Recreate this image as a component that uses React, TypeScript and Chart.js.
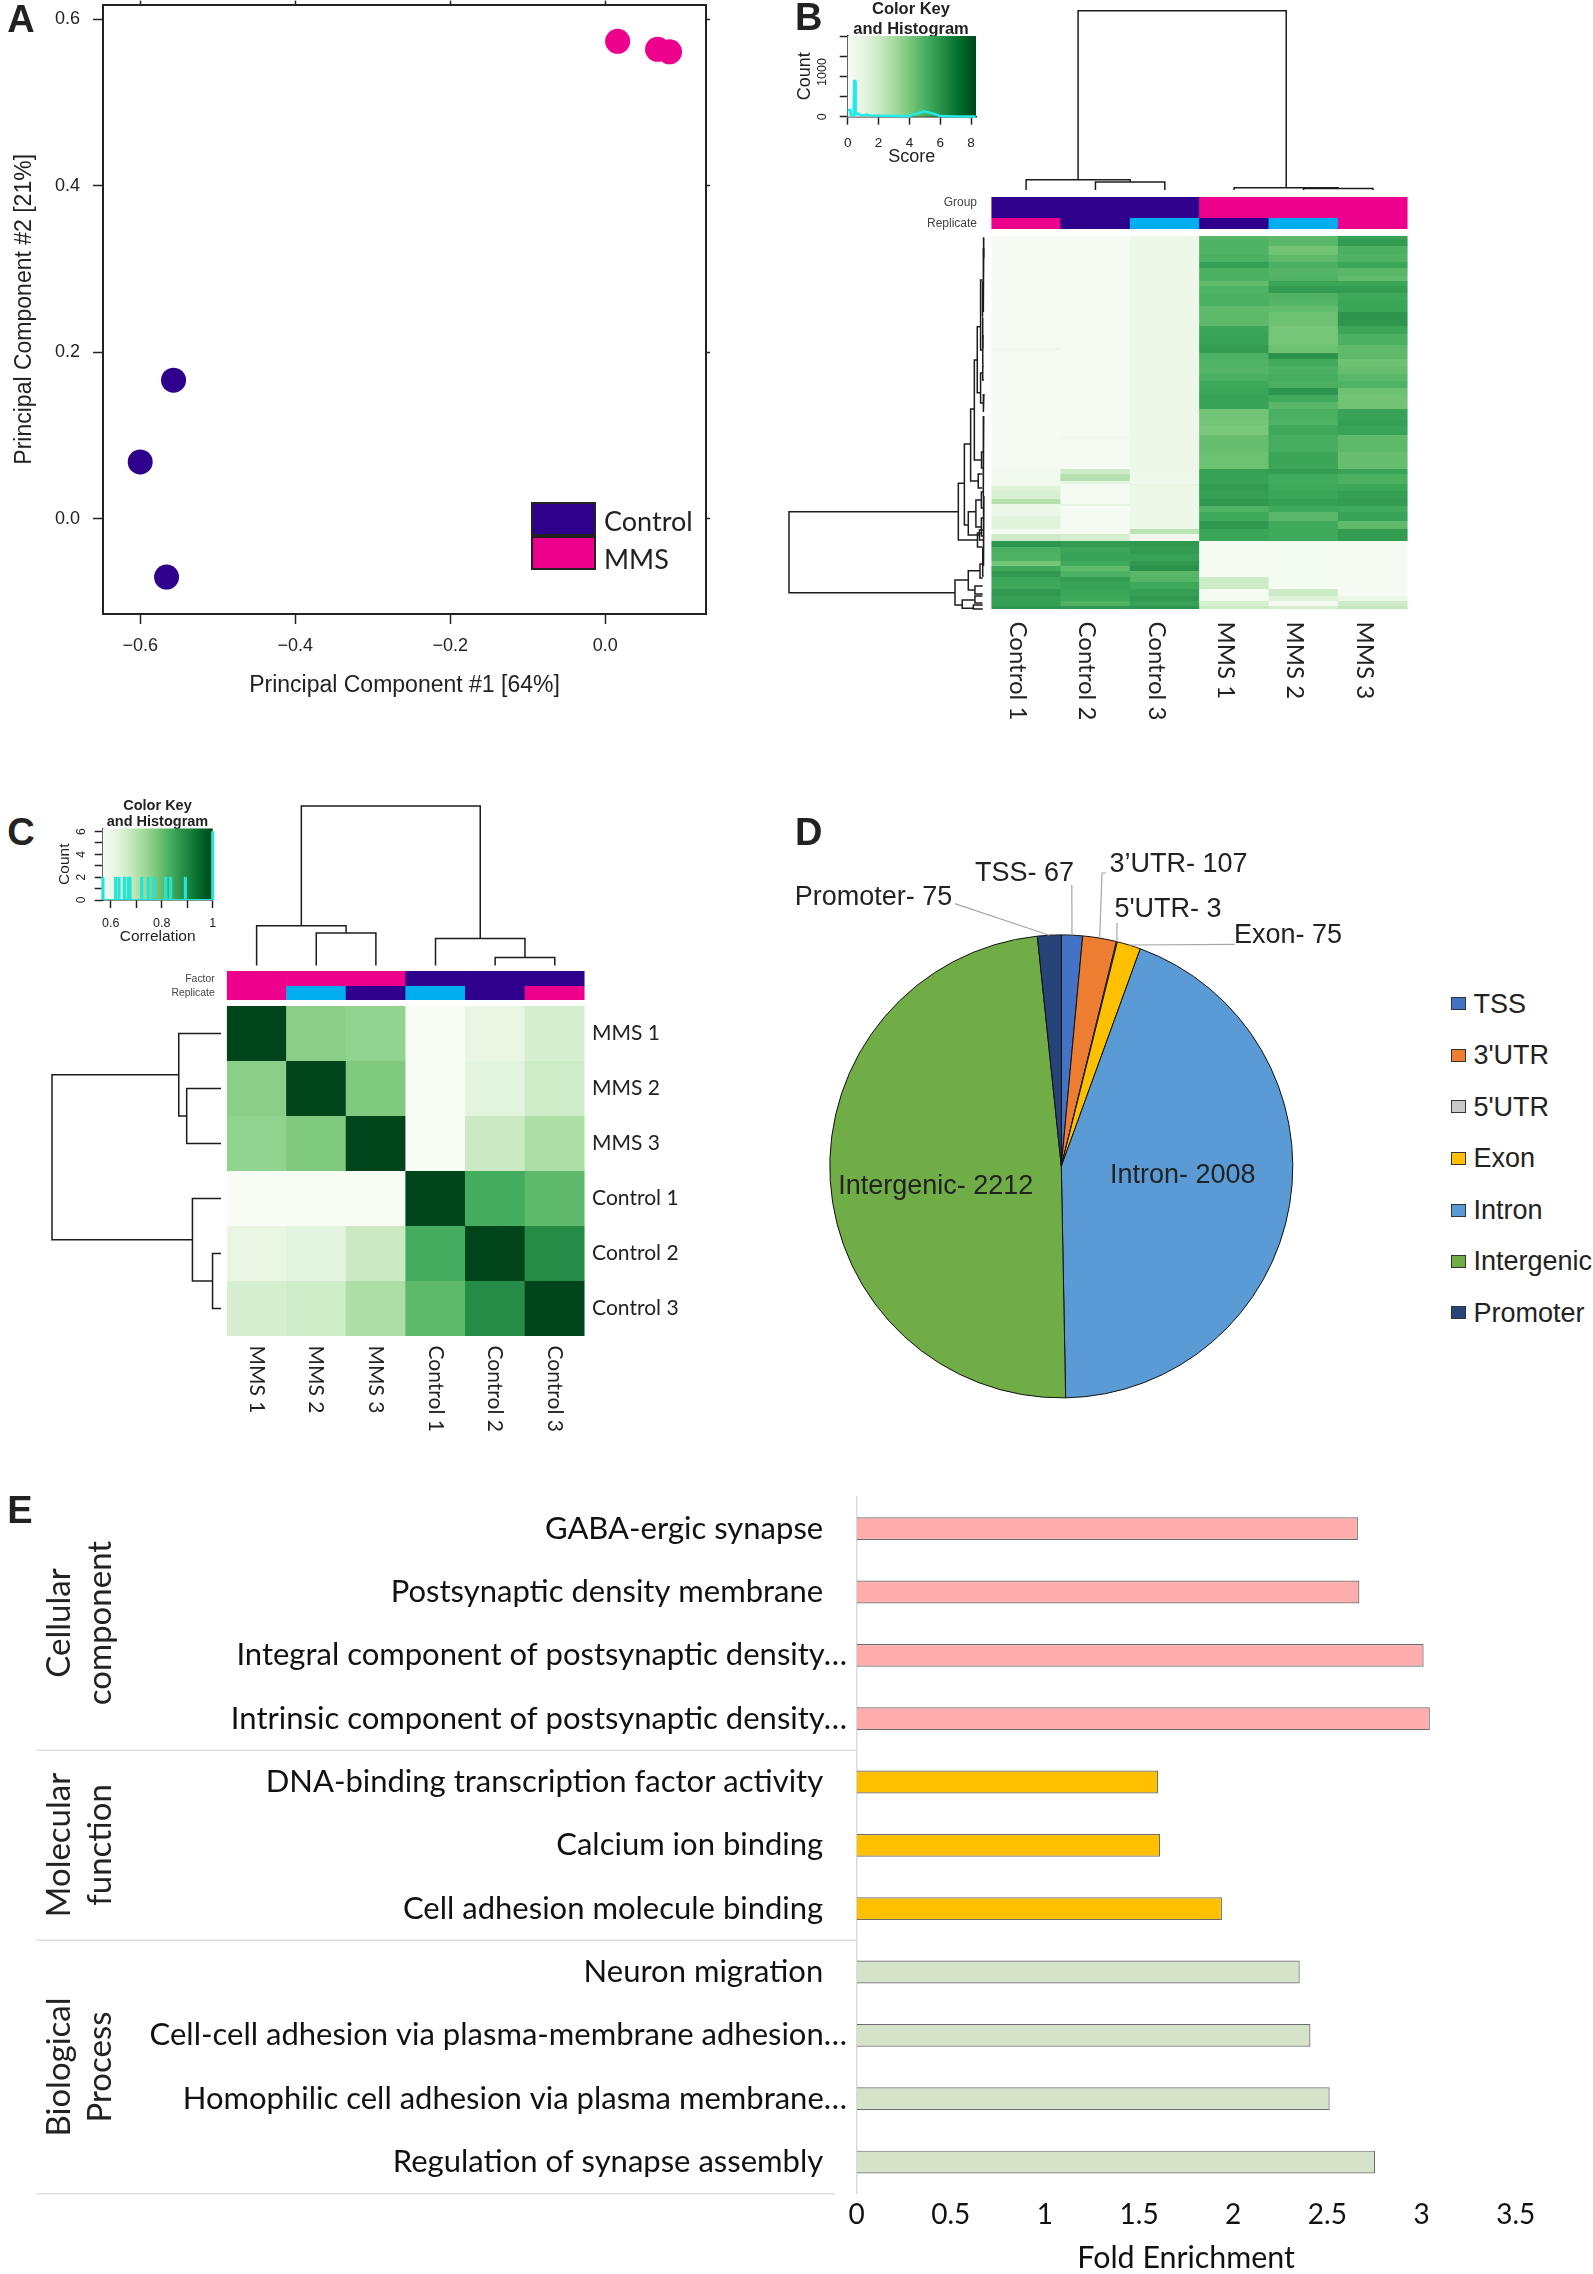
import React, { useEffect, useRef } from "react";
import { Chart, registerables } from "chart.js";

Chart.register(...registerables);

const SANS = '"Liberation Sans"';
const CAL = "Lato";
const INK = "#222222";
const DARK = "#111111";
const NAVY = "#2E008B";
const PINK = "#EC008C";
const SKY = "#00AEEF";

/* ---------- data ---------- */
const pcaControlX = [-0.557, -0.6, -0.566];
const pcaControlY = [0.1666, 0.0684, -0.07];
const pcaMmsX = [0.016, 0.0675, 0.083];
const pcaMmsY = [0.5736, 0.564, 0.561];

const scoreHistBins = [0, 0.15, 0.2, 0.38, 0.42, 0.48, 0.52, 0.7, 0.8, 1.0, 1.2, 1.4, 2, 3, 4, 4.2, 4.5, 4.9, 5.3, 5.7, 6, 7, 8.3];
const scoreHistCounts = [150, 150, 30, 30, 800, 800, 50, 70, 40, 30, 50, 30, 25, 15, 10, 50, 70, 120, 90, 50, 15, 8, 5];

const corrHistBins = [0.5695, 0.6195, 0.6326, 0.6535, 0.669, 0.6757, 0.7215, 0.7476, 0.77, 0.8157, 0.8353, 0.893, 1.0];
const corrHistCounts = [2, 2, 2, 2, 2, 2, 2, 2, 2, 2, 2, 2, 6];

const samplesB = ["Control 1", "Control 2", "Control 3", "MMS 1", "MMS 2", "MMS 3"];
const samplesC = ["MMS 1", "MMS 2", "MMS 3", "Control 1", "Control 2", "Control 3"];

const annotNamesB = ["Group", "Replicate"];
const annotColoursB = [
  [NAVY, NAVY, NAVY, PINK, PINK, PINK],
  [PINK, NAVY, SKY, NAVY, SKY, PINK],
];
const annotNamesC = ["Factor", "Replicate"];
const annotColoursC = [
  [PINK, PINK, PINK, NAVY, NAVY, NAVY],
  [PINK, SKY, NAVY, SKY, NAVY, PINK],
];

const geneBandCounts = [
  3, 7, 9, 7, 6, 8, 5, 5, 7, 7, 6, 6, 7, 7, 8, 11, 3, 2, 3, 6, 7, 8, 7, 7, 7, 7, 7, 11,
  5, 10, 2, 2, 13, 17,
  5, 7, 3, 2, 5, 8, 5, 2, 6, 4, 5, 8, 5, 7,
  6, 7, 7, 5, 5, 6, 5, 7, 7, 5, 5, 3,
];
const geneBandScores = [
  [0.1, 0.1, 0.6, 4.7, 4.6, 5.5], [0.1, 0.1, 0.6, 4.9, 4.7, 5.7], [0.1, 0.1, 0.6, 4.9, 4.2, 5.0], [0.1, 0.1, 0.6, 5.0, 4.6, 4.9],
  [0.1, 0.1, 0.6, 5.6, 5.0, 5.4], [0.1, 0.1, 0.6, 5.0, 4.8, 4.7], [0.1, 0.1, 0.6, 5.0, 4.9, 4.5], [0.1, 0.1, 0.6, 4.5, 5.4, 5.4],
  [0.1, 0.1, 0.6, 4.9, 5.7, 5.7], [0.1, 0.1, 0.6, 5.0, 4.9, 5.3], [0.1, 0.1, 0.6, 5.0, 4.8, 5.4], [0.1, 0.1, 0.6, 4.6, 4.5, 5.4],
  [0.1, 0.1, 0.6, 4.6, 4.3, 5.9], [0.1, 0.1, 0.6, 4.6, 4.3, 5.9], [0.1, 0.1, 0.6, 5.4, 4.1, 5.4], [0.1, 0.1, 0.6, 5.5, 4.1, 5.0],
  [0.1, 0.1, 0.6, 5.7, 4.3, 4.6], [0.6, 0.1, 0.6, 5.7, 4.3, 4.6], [0.1, 0.1, 0.6, 5.7, 4.3, 4.6],
  [0.1, 0.1, 0.6, 5.0, 6.0, 4.6], [0.1, 0.1, 0.6, 4.9, 5.2, 4.3], [0.1, 0.1, 0.6, 4.8, 5.0, 4.4], [0.1, 0.1, 0.6, 5.0, 5.1, 4.7],
  [0.1, 0.1, 0.6, 5.3, 5.0, 4.9], [0.1, 0.1, 0.6, 5.4, 5.9, 4.3], [0.1, 0.1, 0.6, 5.5, 5.2, 4.2], [0.1, 0.1, 0.6, 5.5, 4.7, 4.2],
  [0.1, 0.1, 0.6, 4.2, 5.0, 5.5],
  [0.1, 0.1, 0.6, 4.1, 4.9, 5.6], [0.1, 0.1, 0.6, 4.0, 5.3, 5.5], [0.1, 0.1, 0.6, 4.4, 5.1, 4.6], [0.1, 0.5, 0.6, 4.4, 5.1, 4.6],
  [0.1, 0.1, 0.6, 4.4, 5.1, 4.6], [0.1, 0.1, 0.6, 4.3, 5.4, 4.4],
  [0.3, 1.9, 0.6, 5.6, 5.7, 5.5], [0.3, 2.6, 0.5, 5.5, 5.2, 5.0], [0.3, 1.0, 0.5, 5.5, 5.2, 5.0], [0.3, 0.1, 1.0, 5.7, 5.3, 5.4],
  [1.3, 0.1, 0.6, 5.7, 5.3, 5.4], [1.5, 0.1, 0.6, 5.6, 5.4, 5.6], [2.6, 0.1, 0.6, 5.8, 5.6, 5.7], [0.7, 1.0, 0.6, 5.8, 5.6, 5.7],
  [0.7, 0.1, 0.6, 4.9, 5.3, 5.2], [0.7, 0.1, 0.6, 5.3, 4.7, 5.5], [1.1, 0.1, 0.6, 5.3, 4.7, 5.5], [1.2, 0.1, 0.6, 5.8, 5.2, 4.6],
  [0.2, 0.1, 2.4, 5.4, 5.3, 5.7], [1.9, 1.6, 0.3, 5.4, 5.3, 5.7],
  [5.9, 5.7, 5.8, 0.1, 0.2, 0.1], [5.0, 5.4, 5.7, 0.1, 0.2, 0.1], [4.9, 5.5, 5.5, 0.1, 0.2, 0.1], [4.1, 5.3, 5.8, 0.1, 0.2, 0.1],
  [5.3, 4.6, 6.0, 0.1, 0.2, 0.1], [5.8, 5.0, 4.7, 0.1, 0.2, 0.1], [5.4, 5.7, 4.8, 1.8, 0.2, 0.1], [5.3, 5.5, 5.3, 1.8, 0.2, 0.1],
  [5.8, 5.4, 5.6, 0.2, 1.9, 0.1], [5.6, 5.3, 5.8, 0.1, 1.3, 0.6], [5.6, 4.9, 5.5, 1.5, 0.1, 1.8], [5.9, 5.8, 5.9, 2.0, 1.6, 2.2],
];

const correlation = [
  [1, 0.758, 0.747, 0.56, 0.615, 0.65],
  [0.758, 1, 0.77, 0.565, 0.626, 0.665],
  [0.747, 0.77, 1, 0.565, 0.67, 0.715],
  [0.56, 0.565, 0.565, 1, 0.835, 0.807],
  [0.615, 0.626, 0.67, 0.835, 1, 0.89],
  [0.65, 0.665, 0.715, 0.807, 0.89, 1],
];

/* merge: position a, position b, height of a, height of b, height of the join */
const sampleTreeB = [[0.5, 2, 0, 4.4, 5.7], [1.5, 2.5, 0, 0, 4.4], [3.5, 5, 0, 0.8, 1.3], [4.5, 5.5, 0, 0, 0.8], [1.25, 4.25, 5.7, 1.3, 100]];
const sampleTreeC = [[0.5, 2, 0, 20.3, 25], [1.5, 2.5, 0, 0, 20.3], [3.5, 5, 0, 5, 16.9], [4.5, 5.5, 0, 0, 5], [1.25, 4.25, 25, 16.9, 100]];
const geneTreeB = [
  [275.7, 356.7, 13.3, 15, 100], [247.3, 304, 10.2, 3.5, 13.3], [297, 311, 1, 1, 3.5], [208, 289, 7, 8.2, 10.2],
  [275.7, 299, 4.3, 2.5, 8.2], [264, 291, 1.5, 1.5, 4.3], [294, 304, 0.6, 0.6, 2.5], [256, 272, 0.5, 0.5, 1.5], [282, 300, 0.5, 0.5, 1.5],
  [173, 245, 5.1, 3.1, 7], [238, 252, 1, 1, 3.1], [124, 224, 3.6, 1.4, 5.1], [216, 232, 0.4, 0.4, 1.4], [90.7, 156.7, 1.9, 1.9, 3.6],
  [44, 114, 0.9, 0.8, 1.9], [137, 167, 0.8, 0.6, 1.9], [46, 80, 0.5, 0.5, 0.9], [82, 112, 0.5, 0.5, 0.8], [12, 76, 0.3, 0.3, 0.6], [2, 22, 0, 0.2, 0.4],
  [100, 128, 0.3, 0.3, 0.8], [130, 144, 0.2, 0.2, 0.8], [158, 176, 0.2, 0.2, 0.6], [180, 260, 0.3, 0.3, 0.6], [260, 330, 0.2, 0.2, 0.5],
  [344, 369, 8.2, 11.3, 15], [334.7, 354, 2.2, 4.8, 8.2], [328, 342, 0.8, 0.8, 2.2], [350, 358, 0.8, 0.8, 4.8], [364, 372.3, 4.8, 5.6, 11.3],
  [360, 367, 1, 1, 4.8], [369, 373, 0.8, 0.8, 5.6], [312, 340, 0.3, 0.3, 0.8],
];

const regionNames = ["TSS", "3'UTR", "5'UTR", "Exon", "Intron", "Intergenic", "Promoter"];
const regionCounts = [67, 107, 3, 75, 2008, 2212, 75];
const regionColours = ["#4472C4", "#ED7D31", "#C9C9C9", "#FFC000", "#5B9BD5", "#70AD47", "#264478"];

const termNames = [
  "GABA-ergic synapse", "Postsynaptic density membrane", "Integral component of postsynaptic density…", "Intrinsic component of postsynaptic density…",
  "DNA-binding transcription factor activity", "Calcium ion binding", "Cell adhesion molecule binding",
  "Neuron migration", "Cell-cell adhesion via plasma-membrane adhesion…", "Homophilic cell adhesion via plasma membrane…", "Regulation of synapse assembly",
];
const foldEnrichment = [2.662, 2.67, 3.011, 3.044, 1.601, 1.612, 1.94, 2.353, 2.41, 2.512, 2.753];
const termGroupSizes = [4, 3, 4];
const termGroupColours = ["#FFADAD", "#FFC000", "#D5E4C8"];

/* ---------- colour ---------- */
const GREENS = ["#f7fcf5", "#e5f5e0", "#c7e9c0", "#a1d99b", "#74c476", "#41ab5d", "#238b45", "#006d2c", "#00441b"];
const hexRgb = (h: string) => [1, 3, 5].map((i) => parseInt(h.slice(i, i + 2), 16));
function greens(t: number) {
  const p = Math.max(0, Math.min(1, t)) * 8;
  const i = Math.min(7, Math.floor(p));
  const a = hexRgb(GREENS[i]);
  const b = hexRgb(GREENS[i + 1]);
  const c = a.map((v, k) => Math.round(v + (b[k] - v) * (p - i)));
  return `rgb(${c[0]},${c[1]},${c[2]})`;
}

/* ---------- plugins ---------- */
const greensBackdrop = {
  id: "greensBackdrop",
  beforeDatasetsDraw(chart: any, _a: any, o: any) {
    if (!o.on) return;
    const { ctx, chartArea: a } = chart;
    const g = ctx.createLinearGradient(a.left, 0, a.right, 0);
    GREENS.forEach((c, i) => g.addColorStop(i / 8, c));
    ctx.save();
    ctx.fillStyle = g;
    ctx.fillRect(a.left, a.top, a.right - a.left, a.bottom - a.top);
    ctx.restore();
  },
};
const clockwiseLabels = {
  id: "clockwiseLabels",
  afterDraw(chart: any, _a: any, o: any) {
    if (!o.font) return;
    const s = chart.scales.x;
    const ctx = chart.ctx;
    s.ticks.forEach((t: any, i: number) => {
      ctx.save();
      ctx.translate(s.getPixelForTick(i) + o.shift, s.top + o.gap);
      ctx.rotate(Math.PI / 2);
      ctx.font = o.font;
      ctx.fillStyle = INK;
      ctx.textAlign = "left";
      ctx.textBaseline = "middle";
      ctx.fillText(s.getLabelForValue(t.value), 0, 0);
      ctx.restore();
    });
  },
};
const riseLabels = {
  id: "riseLabels",
  afterDraw(chart: any, _a: any, o: any) {
    if (!o.font) return;
    const s = chart.scales.y;
    const ctx = chart.ctx;
    o.values.forEach((v: number) => {
      ctx.save();
      ctx.translate(s.right - o.off, s.getPixelForValue(v));
      ctx.rotate(-Math.PI / 2);
      ctx.font = o.font;
      ctx.fillStyle = INK;
      ctx.textAlign = "center";
      ctx.textBaseline = "middle";
      ctx.fillText(String(v), 0, 0);
      ctx.restore();
    });
  },
};
const leaderLines = {
  id: "leaderLines",
  afterDraw(chart: any, _a: any, o: any) {
    if (!o.paths) return;
    const { ctx } = chart;
    const arcs = chart.getDatasetMeta(0).data;
    ctx.save();
    ctx.strokeStyle = "#A6A6A6";
    ctx.lineWidth = 1.2;
    o.paths.forEach((p: any) => {
      const arc = arcs[p.index];
      const mid = (arc.startAngle + arc.endAngle) / 2;
      ctx.beginPath();
      p.points.forEach(([x, y]: number[], i: number) => {
        const cx = x - o.left;
        const cy = y - o.top;
        if (i === 0) ctx.moveTo(cx, cy);
        else ctx.lineTo(cx, cy);
      });
      ctx.lineTo(arc.x + Math.cos(mid) * arc.outerRadius, arc.y + Math.sin(mid) * arc.outerRadius);
      ctx.stroke();
    });
    ctx.restore();
  },
};
const groupRules = {
  id: "groupRules",
  afterDraw(chart: any, _a: any, o: any) {
    if (!o.sizes) return;
    const s = chart.scales.y;
    const { ctx } = chart;
    let n = 0;
    ctx.save();
    ctx.strokeStyle = "#DFDFDF";
    ctx.lineWidth = 1.5;
    o.sizes.forEach((k: number, i: number) => {
      n += k;
      const y = s.getPixelForValue(n - 0.5);
      ctx.beginPath();
      ctx.moveTo(o.from, y);
      ctx.lineTo(i === o.sizes.length - 1 ? o.lastTo : s.right, y);
      ctx.stroke();
    });
    ctx.restore();
  },
};

/* ---------- helpers ---------- */
const fit = (size: number) => (s: any) => {
  if (s.isHorizontal()) s.height = size;
  else s.width = size;
  s.paddingTop = 0;
  s.paddingBottom = 0;
  s.paddingLeft = 0;
  s.paddingRight = 0;
};
const base = (extra: any = {}) => ({
  animation: false,
  responsive: false,
  maintainAspectRatio: false,
  devicePixelRatio: 1,
  ...extra,
  layout: { autoPadding: false, ...(extra.layout || {}) },
  plugins: { legend: { display: false }, tooltip: { enabled: false }, ...(extra.plugins || {}) },
});
const allPlugins = [greensBackdrop, clockwiseLabels, riseLabels, leaderLines, groupRules];
const hidden = (min: number, max: number, reverse = false) => ({ type: "linear", display: false, min, max, reverse });
const minusFmt = (v: number) => v.toFixed(1).replace("-", "−");

function treeChart(plot: any, merges: number[][], posMax: number, horizontal: boolean) {
  const rect = { x: Math.floor(plot.l) - 3, y: Math.floor(plot.t) - 3, w: Math.ceil(plot.r - plot.l) + 7, h: Math.ceil(plot.b - plot.t) + 7 };
  const datasets = merges.map(([a, b, ha, hb, h]) => ({
    data: horizontal
      ? [{ x: a, y: ha }, { x: a, y: h }, { x: b, y: h }, { x: b, y: hb }]
      : [{ x: ha, y: a }, { x: h, y: a }, { x: h, y: b }, { x: hb, y: b }],
    showLine: true,
    pointRadius: 0,
    borderColor: "#1c1c1c",
    borderWidth: 1.5,
    clip: false,
  }));
  return {
    rect,
    config: {
      type: "scatter",
      data: { datasets },
      options: base({
        layout: { padding: { left: plot.l - rect.x, top: plot.t - rect.y, right: rect.x + rect.w - plot.r, bottom: rect.y + rect.h - plot.b } },
        scales: horizontal
          ? { x: hidden(0, posMax), y: hidden(0, 100) }
          : { x: hidden(0, 100, true), y: hidden(0, posMax, true) },
      }),
    },
  };
}

function annotChart(rect: any, plot: any, names: string[], sizes: number[], labelAt: number[], colours: string[][], font: number, pad: number) {
  const total = sizes.reduce((a, b) => a + b, 0);
  return {
    rect,
    config: {
      type: "bar",
      data: {
        labels: colours[0].map((_, i) => String(i)),
        datasets: sizes.map((s, r) => ({
          data: colours[r].map(() => s),
          backgroundColor: colours[r],
          stack: "s",
          categoryPercentage: 1,
          barPercentage: 1.01,
        })),
      },
      options: base({
        layout: { padding: { top: plot.t - rect.y, right: rect.x + rect.w - plot.r, bottom: rect.y + rect.h - plot.b } },
        scales: {
          x: { display: false, stacked: true },
          y: {
            type: "linear", min: 0, max: total, reverse: true, stacked: true,
            afterFit: fit(plot.l - rect.x),
            afterBuildTicks: (ax: any) => { ax.ticks = labelAt.map((value) => ({ value })); },
            grid: { display: false, drawTicks: false }, border: { display: false },
            ticks: {
              autoSkip: false, padding: pad, color: "#444", font: { family: SANS, size: font },
              callback: (v: number) => names[labelAt.indexOf(v)],
            },
          },
        },
      }),
    },
  };
}

function keyAxes(o: any) {
  return {
    x: {
      type: "linear", min: o.xMin, max: o.xMax, offset: false,
      afterFit: fit(o.bottom),
      border: { color: INK, width: 1.5 },
      grid: { drawOnChartArea: false, tickLength: 8, tickWidth: 1.5, tickColor: INK, offset: false },
      ticks: { stepSize: o.xStep, includeBounds: false, padding: o.xPad, color: INK, maxRotation: 0, autoSkip: false, font: { family: SANS, size: o.tick }, callback: o.xFmt },
      title: { display: true, text: o.xTitle, color: INK, font: { family: SANS, size: o.titleSize }, padding: { top: 1, bottom: 0 } },
    },
    y: {
      type: "linear", min: 0, max: o.yMax,
      afterFit: fit(o.left),
      border: { color: INK, width: 1.5 },
      grid: { drawOnChartArea: false, tickLength: 8, tickWidth: 1.5, tickColor: INK },
      ticks: { display: false, stepSize: o.yStep, includeBounds: false },
      title: { display: true, text: "Count", color: INK, font: { family: SANS, size: o.titleSize }, padding: { top: o.countPad, bottom: 0 } },
    },
    y2: {
      axis: "y", type: "linear", position: "right", min: 0, max: o.yMax,
      afterFit: fit(o.right),
      border: { display: false }, grid: { display: false, drawTicks: false }, ticks: { display: false },
    },
  };
}

/* ---------- panels ---------- */
const tickFontA = { family: SANS, size: 18 };
const sharedA = {
  border: { color: INK, width: 2 },
  grid: { drawOnChartArea: false, tickLength: 10, tickWidth: 1.5, tickColor: INK },
};
const rectA = { x: 0, y: 0, w: 720, h: 699 };
const heatBTotal = geneBandCounts.reduce((a, b) => a + b, 0);
const rowCentresC = samplesC.map((_, i) => i + 0.5);

const panels: any[] = [
  {
    rect: rectA,
    config: {
      type: "scatter",
      data: {
        datasets: [
          { label: "Control", data: pcaControlX.map((x, i) => ({ x, y: pcaControlY[i] })), backgroundColor: NAVY, pointRadius: 12.5, borderWidth: 0 },
          { label: "MMS", data: pcaMmsX.map((x, i) => ({ x, y: pcaMmsY[i] })), backgroundColor: PINK, pointRadius: 12.5, borderWidth: 0 },
        ],
      },
      options: base({
        scales: {
          x: {
            type: "linear", position: "bottom", min: -0.648, max: 0.13, afterFit: fit(85), ...sharedA,
            ticks: { stepSize: 0.2, includeBounds: false, padding: 11, color: INK, font: tickFontA, callback: minusFmt },
            title: { display: true, text: "Principal Component #1 [64%]", color: INK, font: { family: SANS, size: 23 }, padding: { top: 2.5, bottom: 0 } },
          },
          y: {
            type: "linear", position: "left", min: -0.1143, max: 0.6177, afterFit: fit(103), ...sharedA,
            ticks: { stepSize: 0.2, includeBounds: false, padding: 13, color: INK, font: tickFontA, callback: minusFmt },
            title: { display: true, text: "Principal Component #2 [21%]", color: INK, font: { family: SANS, size: 23 }, padding: { top: 11, bottom: 0 } },
          },
          x2: {
            axis: "x", type: "linear", position: "top", min: -0.648, max: 0.13, afterFit: fit(4.6),
            border: sharedA.border, grid: { ...sharedA.grid, tickLength: 4 },
            ticks: { display: false, stepSize: 0.2, includeBounds: false },
          },
          y2: {
            axis: "y", type: "linear", position: "right", min: -0.1143, max: 0.6177, afterFit: fit(14),
            border: sharedA.border, grid: { ...sharedA.grid, tickLength: 4 },
            ticks: { display: false, stepSize: 0.2, includeBounds: false },
          },
        },
      }),
    },
  },
  /* B: colour key */
  {
    rect: { x: 790, y: 0, w: 242, h: 168 },
    config: {
      type: "scatter",
      data: {
        datasets: [{
          data: scoreHistBins.map((x, i) => ({ x, y: scoreHistCounts[i] })),
          showLine: true, pointRadius: 0, borderColor: "#1FEBEB", borderWidth: 2.4, clip: false,
        }],
      },
      options: base({
        plugins: {
          greensBackdrop: { on: true },
          title: { display: true, text: ["Color Key", "and Histogram"], color: INK, font: { family: SANS, size: 16.5, weight: "bold", lineHeight: 1.17 }, padding: { top: 0, bottom: -2.6 } },
          riseLabels: { values: [0, 1000], off: 24.7, font: `12.5px ${SANS}` },
        },
        scales: keyAxes({
          xMin: 0, xMax: 8.32, xStep: 2, bottom: 51.3, left: 57.7, right: 56, yMax: 1805, yStep: 500, xPad: 10.5, tick: 13.5,
          xTitle: "Score", titleSize: 18, countPad: 4, xFmt: (v: number) => String(v),
        }),
      }),
    },
  },
  treeChart({ l: 991.4, r: 1407.6, t: 10.7, b: 190 }, sampleTreeB, 6, true),
  annotChart({ x: 900, y: 190, w: 510, h: 46 }, { l: 991.4, r: 1407.6, t: 197, b: 229 }, annotNamesB, [21, 11], [5.5, 26.5], annotColoursB, 12, 14.4),
  treeChart({ l: 789, r: 984.3, t: 236, b: 609 }, geneTreeB, 373, false),
  {
    rect: { x: 985, y: 236, w: 430, h: 494 },
    config: {
      type: "bar",
      data: {
        labels: samplesB,
        datasets: geneBandCounts.map((n, r) => ({
          data: samplesB.map(() => n),
          backgroundColor: geneBandScores[r].map((s) => greens(s / 8.32)),
          stack: "s", categoryPercentage: 1, barPercentage: 1.01,
        })),
      },
      options: base({
        layout: { padding: { left: 6.4, right: 7.4 } },
        plugins: { clockwiseLabels: { shift: -8.4, gap: 12.5, font: `24px ${CAL}` } },
        scales: {
          x: { stacked: true, afterFit: fit(121), grid: { display: false }, border: { display: false }, ticks: { display: false, autoSkip: false } },
          y: { type: "linear", display: false, min: 0, max: heatBTotal, reverse: true, stacked: true },
        },
      }),
    },
  },
  /* C: colour key */
  {
    rect: { x: 50, y: 798, w: 215, h: 148 },
    config: {
      type: "bar",
      data: {
        datasets: [
          { data: corrHistBins.map((x, i) => ({ x, y: corrHistCounts[i] })), backgroundColor: "#22E6D5", barThickness: 2.5, clip: false },
          { type: "line", data: [{ x: 0.5686, y: 0 }, { x: 1, y: 0 }], borderColor: "#22E6D5", borderWidth: 2, pointRadius: 0 },
        ],
      },
      options: base({
        plugins: {
          greensBackdrop: { on: true },
          title: { display: true, text: ["Color Key", "and Histogram"], color: INK, font: { family: SANS, size: 14.5, weight: "bold", lineHeight: 1.12 }, padding: { top: 0, bottom: -2 } },
          riseLabels: { values: [0, 2, 4, 6], off: 21, font: `12px ${SANS}` },
        },
        scales: keyAxes({
          xMin: 0.5686, xMax: 1, xStep: 0.1, bottom: 46, left: 52.7, right: 52.3, yMax: 6.27, yStep: 1, xPad: 8, tick: 12.5,
          xTitle: "Correlation", titleSize: 15.5, countPad: 5.6,
          xFmt: (v: number) => (Math.abs(v - 0.6) < 1e-6 ? "0.6" : Math.abs(v - 0.8) < 1e-6 ? "0.8" : Math.abs(v - 1) < 1e-6 ? "1" : ""),
        }),
      }),
    },
  },
  treeChart({ l: 226.8, r: 584.6, t: 806, b: 965.5 }, sampleTreeC, 6, true),
  annotChart({ x: 150, y: 965, w: 440, h: 41 }, { l: 226.8, r: 584.6, t: 971, b: 1000 }, annotNamesC, [15, 14], [8, 22.3], annotColoursC, 10.4, 12.1),
  treeChart({ l: 52, r: 221, t: 1006, b: 1336 }, sampleTreeC, 6, false),
  {
    rect: { x: 220, y: 1006, w: 470, h: 434 },
    config: {
      type: "bar",
      data: {
        labels: samplesC,
        datasets: samplesC.map((_, r) => ({
          data: samplesC.map(() => 1),
          backgroundColor: correlation[r].map((v) => greens((v - 0.5686) / (1 - 0.5686))),
          stack: "s", categoryPercentage: 1, barPercentage: 1.01,
        })),
      },
      options: base({
        layout: { padding: { left: 6.8 } },
        plugins: { clockwiseLabels: { shift: 0, gap: 9.5, font: `21px ${CAL}` } },
        scales: {
          x: { stacked: true, afterFit: fit(104), grid: { display: false }, border: { display: false }, ticks: { display: false, autoSkip: false } },
          y: {
            type: "linear", position: "right", min: 0, max: 6, reverse: true, stacked: true,
            afterFit: fit(105.4),
            afterBuildTicks: (ax: any) => { ax.ticks = rowCentresC.map((value) => ({ value })); },
            grid: { display: false, drawTicks: false }, border: { display: false },
            ticks: { autoSkip: false, padding: 7.5, color: INK, font: { family: CAL, size: 21 }, callback: (v: number) => samplesC[Math.floor(v)] },
          },
        },
      }),
    },
  },
  /* D */
  {
    rect: { x: 780, y: 850, w: 580, h: 560 },
    config: {
      type: "pie",
      data: {
        labels: regionNames,
        datasets: [{ data: regionCounts, backgroundColor: regionColours, borderColor: "#111", borderWidth: 1 }],
      },
      options: base({
        layout: { padding: { left: 49.3, right: 66.7, top: 84.4, bottom: 11.6 } },
        plugins: {
          leaderLines: {
            left: 780, top: 850,
            paths: [
              { index: 6, points: [[954.8, 903.6]] },
              { index: 0, points: [[1071.8, 885]] },
              { index: 1, points: [[1106, 873], [1102, 873]] },
              { index: 2, points: [[1117, 923]] },
              { index: 3, points: [[1234.6, 944.3]] },
            ],
          },
        },
      }),
    },
  },
  /* E */
  {
    rect: { x: 0, y: 1490, w: 1593, h: 784 },
    config: {
      type: "bar",
      data: {
        labels: termNames,
        datasets: [{
          data: foldEnrichment,
          backgroundColor: termGroupSizes.flatMap((n, g) => Array(n).fill(termGroupColours[g])),
          borderColor: "#6b6b6b", borderWidth: 1.2, borderSkipped: "start",
          categoryPercentage: 1, barPercentage: 0.36,
        }],
      },
      options: base({
        indexAxis: "y",
        layout: { padding: { top: 7, right: 77.3 } },
        plugins: { groupRules: { sizes: termGroupSizes, from: 36, lastTo: 835 } },
        scales: {
          x: {
            type: "linear", min: 0, max: 3.5, afterFit: fit(80.3),
            grid: { display: false, drawTicks: false }, border: { display: false },
            ticks: { stepSize: 0.5, padding: 4, color: DARK, font: { family: CAL, size: 28 }, maxRotation: 0, callback: (v: number) => String(v) },
            title: { display: true, text: "Fold Enrichment", color: DARK, font: { family: CAL, size: 30.4, lineHeight: 1.05 }, padding: { top: 0, bottom: 0 } },
          },
          y: {
            afterFit: fit(856.6),
            grid: { display: false, drawTicks: false }, border: { color: "#DADADA", width: 1.5 },
            ticks: {
              autoSkip: false, padding: 9.6, color: DARK, font: { family: CAL, size: 31 },
              callback(this: any, v: number) {
                const l = this.getLabelForValue(v);
                return l.endsWith("…") ? l : l + "   ";
              },
            },
          },
        },
      }),
    },
  },
];

/* ---------- page annotation text ---------- */
const panelLetters = [
  { t: "A", x: 21, y: 19 }, { t: "B", x: 808.7, y: 16.5 }, { t: "C", x: 21, y: 832 }, { t: "D", x: 808.8, y: 831.6 }, { t: "E", x: 20, y: 1510 },
];
const sliceNotes = [
  { t: "Promoter- 75", x: 873.5, y: 895.7 }, { t: "TSS- 67", x: 1024.5, y: 871.6 }, { t: "3’UTR- 107", x: 1178.5, y: 862.5 },
  { t: "5'UTR- 3", x: 1168, y: 907.6 }, { t: "Exon- 75", x: 1288, y: 934.4 }, { t: "Intron- 2008", x: 1182.8, y: 1173.7 }, { t: "Intergenic- 2212", x: 935.8, y: 1184.7 },
];
const groupNotes = [
  { t: "Cellular", x: 57, y: 1623 }, { t: "component", x: 98, y: 1623 },
  { t: "Molecular", x: 57, y: 1845 }, { t: "function", x: 98, y: 1845 },
  { t: "Biological", x: 57, y: 2067 }, { t: "Process", x: 98, y: 2067 },
];
const legendRowsY = [1003.6, 1055.4, 1106.8, 1158.2, 1210, 1261, 1312.9];

function Note({ t, x, y, font, size, weight, rot, left }: any) {
  return (
    <div
      style={{
        position: "absolute", left: x, top: y, fontFamily: font, fontSize: size, fontWeight: weight || 400, color: INK, lineHeight: 1, whiteSpace: "nowrap",
        transform: `translate(${left ? "0" : "-50%"},-50%)${rot ? ` rotate(${rot}deg)` : ""}`,
      }}
    >
      {t}
    </div>
  );
}

function Panel({ rect, config }: any) {
  const ref = useRef<HTMLCanvasElement>(null);
  useEffect(() => {
    const chart = new Chart(ref.current as any, { ...config, plugins: allPlugins });
    return () => chart.destroy();
  }, []);
  return (
    <canvas ref={ref} width={rect.w} height={rect.h} style={{ position: "absolute", left: rect.x, top: rect.y, width: rect.w, height: rect.h, display: "block" }} />
  );
}

export default function App() {
  return (
    <div style={{ position: "absolute", left: 0, top: 0, width: 1593, height: 2274, overflow: "hidden", background: "#fff" }}>
      {panels.map((p, i) => <Panel key={i} rect={p.rect} config={p.config} />)}
      {panelLetters.map((n) => <Note key={n.t} {...n} font={SANS} size={38} weight={700} />)}
      <div style={{ position: "absolute", left: 531, top: 502, width: 65, height: 34, boxSizing: "border-box", background: NAVY, border: "2px solid #222" }} />
      <div style={{ position: "absolute", left: 531, top: 536, width: 65, height: 34, boxSizing: "border-box", background: PINK, border: "2px solid #222" }} />
      <Note t="Control" x={604} y={519.7} font={CAL} size={27} left />
      <Note t="MMS" x={604} y={558} font={CAL} size={27} left />
      {sliceNotes.map((n) => <Note key={n.t} {...n} font={SANS} size={27} />)}
      {regionNames.map((name, i) => (
        <React.Fragment key={name}>
          <div style={{ position: "absolute", left: 1451, top: legendRowsY[i] - 6.5, width: 15, height: 13, boxSizing: "border-box", background: regionColours[i], border: "1px solid #333" }} />
          <Note t={name} x={1473.4} y={legendRowsY[i]} font={SANS} size={27} left />
        </React.Fragment>
      ))}
      {groupNotes.map((n) => <Note key={n.t} {...n} font={CAL} size={33} rot={-90} />)}
    </div>
  );
}
